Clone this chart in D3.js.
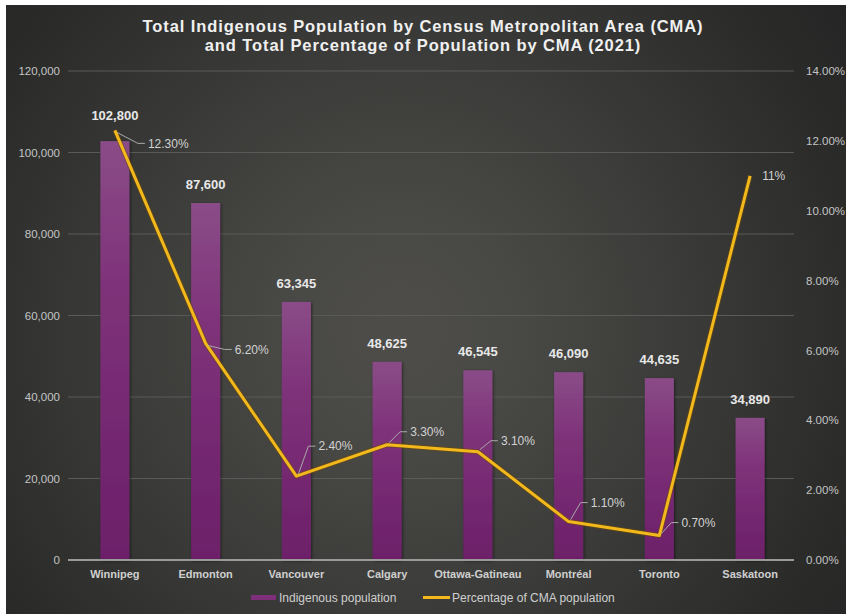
<!DOCTYPE html>
<html>
<head>
<meta charset="utf-8">
<script src="https://cdn.jsdelivr.net/npm/d3@7"></script>
<style>
  html, body { margin: 0; padding: 0; background: #ffffff; }
  svg { display: block; }
</style>
</head>
<body>
<svg id="chart" width="846" height="614"></svg>
<script>
// Indigenous population by CMA, 2021
const categories = ["Winnipeg", "Edmonton", "Vancouver", "Calgary", "Ottawa-Gatineau", "Montréal", "Toronto", "Saskatoon"];
const population = [102800, 87600, 63345, 48625, 46545, 46090, 44635, 34890];
const percentOfCma = [12.3, 6.2, 2.4, 3.3, 3.1, 1.1, 0.7, 11];
const percentLabels = ["12.30%", "6.20%", "2.40%", "3.30%", "3.10%", "1.10%", "0.70%", "11%"];
const leftTicks = [0, 20000, 40000, 60000, 80000, 100000, 120000];
const rightTicks = [0, 2, 4, 6, 8, 10, 12, 14];
const titleLines = [
  "Total Indigenous Population by Census Metropolitan Area (CMA)",
  "and Total Percentage of Population by CMA (2021)"
];
const legendItems = ["Indigenous population", "Percentage of CMA population"];

// placement of the percentage callouts relative to their point
const calloutOffsets = [[33, 13], [29, 6], [22, -30], [23, -13], [23, -11], [22, -19], [22, -13], [12, 0]];
const calloutLeader = [true, true, true, true, true, true, true, false];

const W = 846, H = 614;
const margin = { left: 68, right: 52, top: 71, bottom: 54 };
const svg = d3.select("#chart");
const defs = svg.append("defs");

// dark panel with a soft radial glow
const bg = defs.append("radialGradient").attr("id", "bgGrad")
  .attr("gradientUnits", "userSpaceOnUse")
  .attr("cx", 400).attr("cy", 330).attr("r", 560);
bg.append("stop").attr("offset", "0").attr("stop-color", "#4e4d49");
bg.append("stop").attr("offset", "0.22").attr("stop-color", "#484845");
bg.append("stop").attr("offset", "0.5").attr("stop-color", "#3b3c39");
bg.append("stop").attr("offset", "0.8").attr("stop-color", "#2c2d2b");
bg.append("stop").attr("offset", "1").attr("stop-color", "#232423");

const barGrad = defs.append("linearGradient").attr("id", "barGrad")
  .attr("x1", 0).attr("y1", 0).attr("x2", 0).attr("y2", 1);
barGrad.append("stop").attr("offset", "0").attr("stop-color", "#8a4c88");
barGrad.append("stop").attr("offset", "0.35").attr("stop-color", "#7e3279");
barGrad.append("stop").attr("offset", "1").attr("stop-color", "#6c1f69");

const shadow = defs.append("filter").attr("id", "shadow")
  .attr("x", "-30%").attr("y", "-10%").attr("width", "160%").attr("height", "130%");
shadow.append("feDropShadow").attr("dx", 1).attr("dy", 1).attr("stdDeviation", 1.5)
  .attr("flood-color", "#000").attr("flood-opacity", 0.5);

svg.append("rect").attr("x", 6).attr("y", 5).attr("width", W - 6).attr("height", H - 5)
  .attr("fill", "url(#bgGrad)");

const x = d3.scaleBand().domain(categories)
  .range([margin.left + 1.5, W - margin.right + 1.5]).paddingInner(0.68).paddingOuter(0.34);
const yLeft = d3.scaleLinear().domain([0, 120000]).range([H - margin.bottom, margin.top]);
const yRight = d3.scaleLinear().domain([0, 14]).range([H - margin.bottom, margin.top]);

// gridlines
svg.append("g")
  .selectAll("line").data(leftTicks.filter(d => d > 0)).join("line")
  .attr("x1", margin.left).attr("x2", W - margin.right)
  .attr("y1", d => yLeft(d)).attr("y2", d => yLeft(d))
  .attr("stroke", "#5a5a58").attr("stroke-width", 1);

// left axis
const leftAxis = svg.append("g").attr("transform", `translate(${margin.left - 8},0)`)
  .call(d3.axisLeft(yLeft).tickValues(leftTicks).tickFormat(d3.format(",")).tickSize(0).tickPadding(0));
leftAxis.select(".domain").remove();
leftAxis.selectAll("text").attr("fill", "#c4c4c4").attr("font-size", 11.5)
  .attr("font-family", "'Liberation Sans', Arial, sans-serif");

// right axis
const rightAxis = svg.append("g").attr("transform", `translate(${W - margin.right + 12},0)`)
  .call(d3.axisRight(yRight).tickValues(rightTicks).tickFormat(d => d.toFixed(2) + "%").tickSize(0).tickPadding(0));
rightAxis.select(".domain").remove();
rightAxis.selectAll("text").attr("fill", "#c4c4c4").attr("font-size", 11.5)
  .attr("font-family", "'Liberation Sans', Arial, sans-serif");

// bars
svg.append("g").selectAll("rect").data(categories).join("rect")
  .attr("x", d => x(d))
  .attr("y", (d, i) => yLeft(population[i]))
  .attr("width", x.bandwidth())
  .attr("height", (d, i) => yLeft(0) - yLeft(population[i]))
  .attr("fill", "url(#barGrad)")
  .attr("filter", "url(#shadow)");

// baseline
svg.append("line")
  .attr("x1", margin.left).attr("x2", W - margin.right)
  .attr("y1", yLeft(0)).attr("y2", yLeft(0))
  .attr("stroke", "#9a9a98").attr("stroke-width", 2);

// category labels
const xAxis = svg.append("g").attr("transform", `translate(0,${yLeft(0)})`)
  .call(d3.axisBottom(x).tickSize(0).tickPadding(10));
xAxis.select(".domain").remove();
xAxis.selectAll("text").attr("fill", "#cfcfcf").attr("font-size", 11).attr("font-weight", "bold")
  .attr("font-family", "'Liberation Sans', Arial, sans-serif");

// bar value labels
const barLift = (d, i) => (i === 0 ? 15 : 8);
svg.append("g").selectAll("text").data(categories).join("text")
  .attr("x", d => x(d) + x.bandwidth() / 2)
  .attr("y", (d, i) => yLeft(population[i]) - barLift(d, i) - 6)
  .attr("text-anchor", "middle")
  .attr("fill", "#e8e8e8").attr("font-size", 13).attr("font-weight", "bold")
  .attr("font-family", "'Liberation Sans', Arial, sans-serif")
  .text((d, i) => d3.format(",")(population[i]));

// percentage line
const cx = d => x(d) + x.bandwidth() / 2;
const line = d3.line().x((d, i) => cx(categories[i])).y(d => yRight(d));
svg.append("path").datum(percentOfCma)
  .attr("d", line).attr("fill", "none")
  .attr("stroke", "#6b4a08").attr("stroke-width", 5).attr("stroke-linejoin", "round")
  .attr("opacity", 0.55);
svg.append("path").datum(percentOfCma)
  .attr("d", line).attr("fill", "none")
  .attr("stroke", "#f3b91c").attr("stroke-width", 3).attr("stroke-linejoin", "round");

// percentage callouts
const callouts = svg.append("g");
categories.forEach((c, i) => {
  const px = cx(c), py = yRight(percentOfCma[i]);
  const [dx, dy] = calloutOffsets[i];
  const tx = px + dx, ty = py + dy;
  if (calloutLeader[i]) {
    const knee = tx - 7;
    callouts.append("polyline")
      .attr("points", `${px + 2},${py + (dy > 0 ? 2 : -2)} ${knee - 3},${ty} ${tx - 3},${ty}`)
      .attr("fill", "none").attr("stroke", "#a8a8a8").attr("stroke-width", 1);
  }
  callouts.append("text")
    .attr("x", tx).attr("y", ty).attr("dy", "0.35em")
    .attr("fill", "#d2d2d2").attr("font-size", 12)
    .attr("font-family", "'Liberation Sans', Arial, sans-serif")
    .text(percentLabels[i]);
});

// title
svg.append("g").selectAll("text").data(titleLines).join("text")
  .attr("x", 423).attr("y", (d, i) => 32 + i * 19)
  .attr("text-anchor", "middle")
  .attr("fill", "#f0f0f0").attr("font-size", 16.5).attr("font-weight", "bold")
  .attr("letter-spacing", 0.9)
  .attr("font-family", "'Liberation Sans', Arial, sans-serif")
  .text(d => d);

// legend
const legend = svg.append("g").attr("font-family", "'Liberation Sans', Arial, sans-serif")
  .attr("font-size", 12).attr("fill", "#cfcfcf");
legend.append("rect").attr("x", 251).attr("y", 595).attr("width", 25).attr("height", 5).attr("fill", "#7e2f7a");
legend.append("text").attr("x", 279).attr("y", 597.5).attr("dy", "0.35em").text(legendItems[0]);
legend.append("line").attr("x1", 423).attr("x2", 450).attr("y1", 597.5).attr("y2", 597.5)
  .attr("stroke", "#f3b91c").attr("stroke-width", 3);
legend.append("text").attr("x", 452).attr("y", 597.5).attr("dy", "0.35em").text(legendItems[1]);
</script>
</body>
</html>
